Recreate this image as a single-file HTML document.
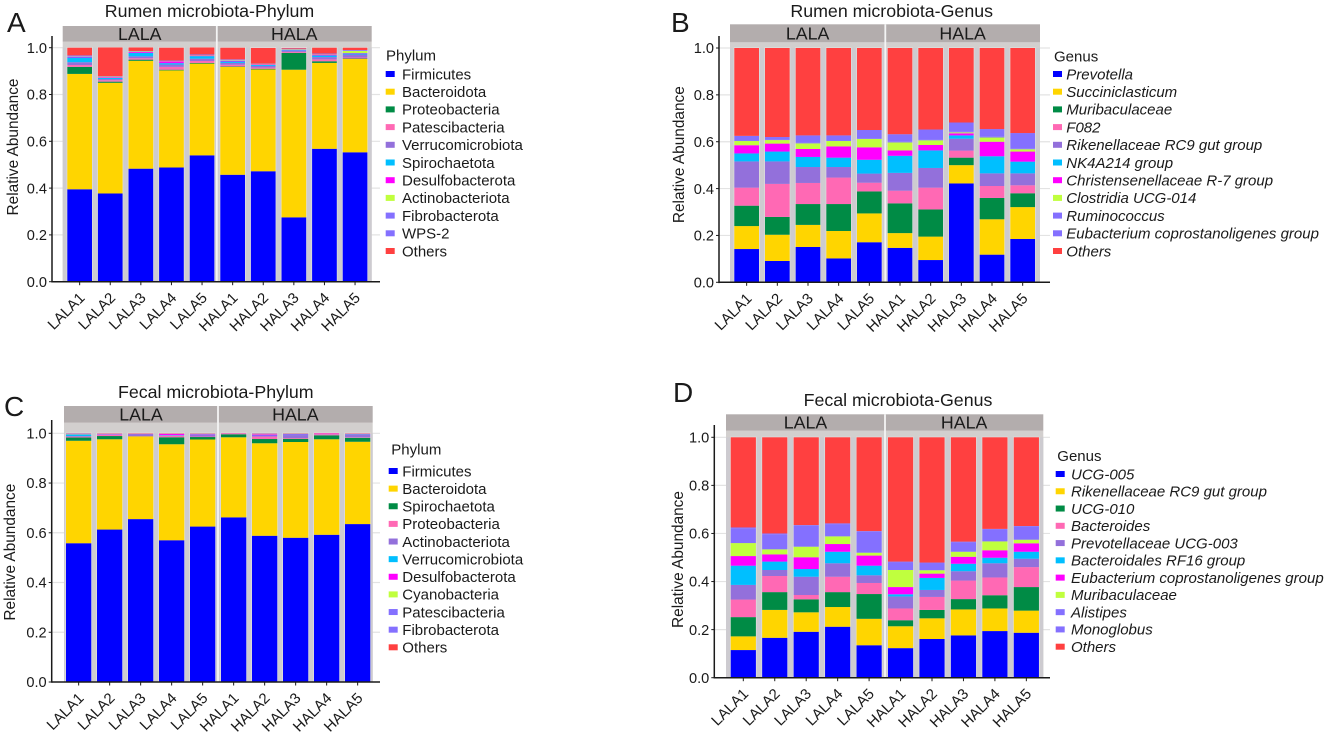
<!DOCTYPE html>
<html lang="en">
<head>
<meta charset="utf-8">
<title>Rumen and fecal microbiota relative abundance</title>
<style>
html,body{margin:0;padding:0;background:#fff;}
#figure{display:block;width:1325px;height:734px;font-family:"Liberation Sans",sans-serif;fill:#1a1a1a;}
</style>
</head>
<body>
<svg id="figure" xmlns="http://www.w3.org/2000/svg" width="1325" height="734" viewBox="0 0 1325 734"></svg>
<script>
// Shared data
const sampleLabels = ["LALA1","LALA2","LALA3","LALA4","LALA5","HALA1","HALA2","HALA3","HALA4","HALA5"];
const groupLabels = ["LALA","HALA"];
const yTickLabels = ["0.0","0.2","0.4","0.6","0.8","1.0"];
const seriesColors = ["#0000FF","#FFD500","#008B45","#FF69B4","#9370DB","#00BFFF","#FF00FF","#C0FF3E","#8470FF","#8470FF","#FF4040"];

// Panel A: rumen phylum
const rumenPhylumNames = ["Firmicutes","Bacteroidota","Proteobacteria","Patescibacteria","Verrucomicrobiota","Spirochaetota","Desulfobacterota","Actinobacteriota","Fibrobacterota","WPS-2","Others"];
const rumenPhylumFirmicutes = [.395,.377,.483,.488,.54,.457,.472,.275,.568,.553];
const rumenPhylumBacteroidota = [.493,.473,.461,.415,.392,.461,.435,.631,.367,.399];
const rumenPhylumProteobacteria = [.03,.005,.005,.003,.003,.002,.003,.072,.007,.002];
const rumenPhylumPatescibacteria = [.008,.006,.006,.012,.008,.007,.005,.004,.008,.004];
const rumenPhylumVerrucomicrobiota = [.012,.005,.008,.01,.01,.008,.007,.004,.01,.013];
const rumenPhylumSpirochaetota = [.02,.005,.015,.006,.011,.006,.004,.003,.007,.004];
const rumenPhylumDesulfobacterota = [.003,.003,.004,.008,.003,.003,.003,.002,.004,.002];
const rumenPhylumActinobacteriota = [.001,.002,.002,.001,.002,.002,.002,.002,.002,.009];
const rumenPhylumFibrobacterota = [.002,.002,.002,.002,.002,.002,.001,.003,.002,.003];
const rumenPhylumWps2 = [.003,0,0,0,0,.002,0,0,0,.001];
const rumenPhylumOthers = [.033,.123,.015,.055,.03,.05,.067,.003,.025,.01];

// Panel B: rumen genus
const rumenGenusNames = ["Prevotella","Succiniclasticum","Muribaculaceae","F082","Rikenellaceae RC9 gut group","NK4A214 group","Christensenellaceae R-7 group","Clostridia UCG-014","Ruminococcus","Eubacterium coprostanoligenes group","Others"];
const rumenGenusPrevotella = [.142,.091,.151,.102,.171,.147,.095,.422,.118,.185];
const rumenGenusSucciniclasticum = [.098,.112,.094,.117,.123,.063,.1,.078,.151,.136];
const rumenGenusMuribaculaceae = [.087,.076,.089,.115,.094,.127,.116,.032,.091,.059];
const rumenGenusF082 = [.077,.141,.09,.113,.037,.054,.093,.03,.051,.034];
const rumenGenusRikenellaceae = [.112,.096,.068,.045,.039,.076,.084,.051,.054,.051];
const rumenGenusNK4A214 = [.034,.042,.043,.04,.059,.073,.075,.014,.073,.05];
const rumenGenusChristensenellaceae = [.035,.034,.034,.048,.053,.023,.023,.009,.062,.043];
const rumenGenusClostridia = [.018,.015,.024,.023,.036,.034,.02,.004,.018,.01];
const rumenGenusRuminococcus = [.002,.002,.002,.002,.002,.003,.003,.003,.003,.002];
const rumenGenusEubacterium = [.02,.011,.032,.022,.036,.032,.043,.039,.033,.067];
const rumenGenusOthers = [.375,.38,.373,.373,.35,.368,.348,.318,.346,.363];

// Panel C: fecal phylum
const fecalPhylumNames = ["Firmicutes","Bacteroidota","Spirochaetota","Proteobacteria","Actinobacteriota","Verrucomicrobiota","Desulfobacterota","Cyanobacteria","Patescibacteria","Fibrobacterota","Others"];
const fecalPhylumFirmicutes = [.558,.613,.655,.57,.625,.662,.588,.58,.592,.635];
const fecalPhylumBacteroidota = [.412,.363,.332,.386,.35,.322,.372,.385,.384,.331];
const fecalPhylumSpirochaetota = [.013,.013,.001,.028,.01,.012,.017,.013,.016,.016];
const fecalPhylumProteobacteria = [.003,.005,.001,.006,.002,.001,.01,.003,.004,.002];
const fecalPhylumActinobacteriota = [.003,.001,.008,.002,.007,.001,.002,.012,.001,.012];
const fecalPhylumVerrucomicrobiota = [.006,.001,0,.001,.001,0,.002,.002,0,.001];
const fecalPhylumDesulfobacterota = [.001,.002,.001,.005,.002,.001,.005,.002,.002,.001];
const fecalPhylumCyanobacteria = [.001,.0005,.0005,.0005,.001,0,.001,.001,0,.0005];
const fecalPhylumPatescibacteria = [.001,.0005,.0005,.0005,.001,0,.001,.001,0,.0005];
const fecalPhylumFibrobacterota = [.001,0,0,0,0,0,.001,0,0,0];
const fecalPhylumOthers = [.001,.001,.001,.001,.001,.001,.001,.001,.001,.001];

// Panel D: fecal genus
const fecalGenusNames = ["UCG-005","Rikenellaceae RC9 gut group","UCG-010","Bacteroides","Prevotellaceae UCG-003","Bacteroidales RF16 group","Eubacterium coprostanoligenes group","Muribaculaceae","Alistipes","Monoglobus","Others"];
const fecalGenusUCG005 = [.115,.166,.191,.212,.135,.123,.161,.176,.194,.187];
const fecalGenusRikenellaceae = [.057,.116,.081,.082,.11,.091,.086,.108,.094,.092];
const fecalGenusUCG010 = [.08,.074,.054,.062,.103,.025,.035,.043,.055,.098];
const fecalGenusBacteroides = [.073,.067,.018,.064,.046,.049,.054,.077,.074,.083];
const fecalGenusPrevotellaceae = [.061,.025,.076,.056,.032,.05,.029,.039,.059,.035];
const fecalGenusRF16 = [.08,.035,.032,.048,.04,.009,.05,.031,.023,.029];
const fecalGenusEubacterium = [.04,.03,.049,.032,.042,.03,.018,.029,.031,.035];
const fecalGenusMuribaculaceae = [.054,.021,.044,.032,.012,.071,.014,.021,.037,.015];
const fecalGenusAlistipes = [.062,.063,.087,.051,.087,.033,.03,.04,.049,.054];
const fecalGenusMonoglobus = [.003,.003,.003,.003,.003,.002,.002,.002,.003,.003];
const fecalGenusOthers = [.375,.4,.365,.358,.39,.517,.521,.434,.381,.369];

const SVG_NS = "http://www.w3.org/2000/svg";
const root = document.getElementById("figure");

function shape(parent, tag, props, text) {
  const el = document.createElementNS(SVG_NS, tag);
  for (const k in props) el.setAttribute(k, props[k]);
  if (text !== undefined) el.textContent = text;
  parent.appendChild(el);
  return el;
}

function drawPanel(p) {
  const g = shape(root, "g", {});
  
  

  // Axis functions
  const yScale = v => p.y0 + (p.y1 - p.y0) * v;
  const xScale = i => p.barLeft + p.step * i;

  const letter = shape(g, "text", {x: p.letterX, y: p.letterY, "font-size": 28}, p.letter);
  
  

  const title = shape(g, "text", {x: p.titleX, y: p.titleY, "font-size": 17.8, "text-anchor": "middle"}, p.title);
  
  

  // Gridlines extend past the panel background
  yTickLabels.forEach((lab, i) => {
    if (i === 0) return;
    const gy = yScale(i / (yTickLabels.length - 1));
    const grid = shape(g, "line", {x1: p.axisX, x2: p.axisEnd, y1: gy, y2: gy, stroke: "#e3e3e3", "stroke-width": 1.2});
    
    
  });

  // Panel background
  const bgTop = shape(g, "rect", {x: p.bgL, y: p.stripB, width: p.bgR - p.bgL, height: p.y0 - p.stripB, fill: "#d2cfce"});
  
  
  const bg = shape(g, "rect", {x: p.bgL, y: p.y1, width: p.bgR - p.bgL, height: p.y0 - p.y1, fill: "#cdcbd0"});
  
  

  // Facet strips
  const strip = shape(g, "rect", {x: p.bgL, y: p.stripT, width: p.bgR - p.bgL, height: p.stripB - p.stripT, fill: "#b3adad"});
  
  
  const divider = shape(g, "rect", {x: p.divX - 0.9, y: p.stripT, width: 1.8, height: p.y0 - p.stripT, fill: "#f4f4f4"});
  
  
  groupLabels.forEach((lab, i) => {
    const cx = i === 0 ? (p.bgL + p.divX) / 2 : (p.divX + p.bgR) / 2;
    const t = shape(g, "text", {x: cx, y: (p.stripT + p.stripB) / 2 + 6.2, "font-size": 17.8, "text-anchor": "middle"}, lab);
    
    
  });

  // Stacked bars
  sampleLabels.forEach((sample, i) => {
    const halo = shape(g, "rect", {x: xScale(i) - 0.6, y: p.y1 - 0.6, width: p.barW + 1.2, height: p.y0 - p.y1 + 0.6, fill: "#e2e2e0"});
    
    
    let acc = 0;
    p.series.forEach((vals, s) => {
      const v = vals[i];
      const top = yScale(acc + v), bottom = yScale(acc);
      acc += v;
      const seg = shape(g, "rect", {x: xScale(i), y: top, width: p.barW, height: Math.max(0, bottom - top), fill: seriesColors[s]});
      
      
    });
  });

  // Axes
  const yAxis = shape(g, "line", {x1: p.axisX, x2: p.axisX, y1: p.axisTop, y2: p.y0 + 0.8, stroke: "#1a1a1a", "stroke-width": 1.5});
  
  
  const xAxis = shape(g, "line", {x1: p.axisX, x2: p.axisEnd, y1: p.y0, y2: p.y0, stroke: "#1a1a1a", "stroke-width": 1.5});
  
  

  yTickLabels.forEach((lab, i) => {
    const ty = yScale(i / (yTickLabels.length - 1));
    const tick = shape(g, "line", {x1: p.axisX - 3, x2: p.axisX, y1: ty, y2: ty, stroke: "#1a1a1a", "stroke-width": 1});
    
    
    const t = shape(g, "text", {x: p.axisX - 5, y: ty + 5.2, "font-size": 14.6, "text-anchor": "end"}, lab);
    
    
  });

  sampleLabels.forEach((sample, i) => {
    const tx = xScale(i) + p.barW / 2;
    const tick = shape(g, "line", {x1: tx, x2: tx, y1: p.y0, y2: p.y0 + 3.5, stroke: "#1a1a1a", "stroke-width": 1});
    
    
    const ax = tx + 6, ay = p.y0 + 17;
    const t = shape(g, "text", {x: ax, y: ay, "font-size": 15, "text-anchor": "end", transform: "rotate(-45 " + ax + " " + ay + ")"}, sample);
    
    
  });

  const yTitleY = (p.y0 + p.y1) / 2 + p.yTitleShift;
  const yTitle = shape(g, "text", {x: p.yTitleX, y: yTitleY, "font-size": 15.4, "text-anchor": "middle", transform: "rotate(-90 " + p.yTitleX + " " + yTitleY + ")"}, "Relative Abundance");
  
  

  // Legend
  const legendTitle = shape(g, "text", {x: p.legTitleX, y: p.legTitleY + 5.3, "font-size": 15}, p.legendTitle);
  
  
  p.names.forEach((name, s) => {
    const ly = p.legY0 + (p.legY1 - p.legY0) * s / (p.names.length - 1);
    const sw = shape(g, "rect", {x: p.swatchX, y: ly - 3, width: 9, height: 6, fill: seriesColors[s]});
    
    
    const props = {x: p.legTextX, y: ly + 5.3, "font-size": 15};
    if (p.italic) props["font-style"] = "italic";
    const t = shape(g, "text", props, name);
    
    
  });
}

drawPanel({
  key: "rumen-phylum", letter: "A", letterX: 7, letterY: 32,
  title: "Rumen microbiota-Phylum", titleX: 209.5, titleY: 17,
  axisX: 52, axisTop: 36, axisEnd: 380, y0: 281.7, y1: 47.7,
  bgL: 62.7, bgR: 371.7, stripT: 26, stripB: 41.7, divX: 216.8,
  barLeft: 67.3, barW: 24.7, step: 30.6, yTitleX: 18, yTitleShift: -17.7,
  legendTitle: "Phylum", names: rumenPhylumNames, italic: false,
  legTitleX: 386, legTitleY: 55, legY0: 74, legY1: 251, swatchX: 385.7, legTextX: 402,
  series: [rumenPhylumFirmicutes, rumenPhylumBacteroidota, rumenPhylumProteobacteria, rumenPhylumPatescibacteria, rumenPhylumVerrucomicrobiota, rumenPhylumSpirochaetota, rumenPhylumDesulfobacterota, rumenPhylumActinobacteriota, rumenPhylumFibrobacterota, rumenPhylumWps2, rumenPhylumOthers]
});

drawPanel({
  key: "rumen-genus", letter: "B", letterX: 671, letterY: 32,
  title: "Rumen microbiota-Genus", titleX: 891.7, titleY: 17,
  axisX: 719, axisTop: 36, axisEnd: 1050, y0: 282.3, y1: 48,
  bgL: 730, bgR: 1040, stripT: 24.3, stripB: 42.3, divX: 885.3,
  barLeft: 734.3, barW: 24.7, step: 30.67, yTitleX: 684, yTitleShift: -10.5,
  legendTitle: "Genus", names: rumenGenusNames, italic: true,
  legTitleX: 1054, legTitleY: 56, legY0: 74, legY1: 251, swatchX: 1053, legTextX: 1066.3,
  series: [rumenGenusPrevotella, rumenGenusSucciniclasticum, rumenGenusMuribaculaceae, rumenGenusF082, rumenGenusRikenellaceae, rumenGenusNK4A214, rumenGenusChristensenellaceae, rumenGenusClostridia, rumenGenusRuminococcus, rumenGenusEubacterium, rumenGenusOthers]
});

drawPanel({
  key: "fecal-phylum", letter: "C", letterX: 4, letterY: 416,
  title: "Fecal microbiota-Phylum", titleX: 215.8, titleY: 398,
  axisX: 51.7, axisTop: 420, axisEnd: 380, y0: 682, y1: 433.3,
  bgL: 64, bgR: 372.7, stripT: 406, stripB: 422.7, divX: 218,
  barLeft: 66, barW: 25.3, step: 31, yTitleX: 15, yTitleShift: -5.5,
  legendTitle: "Phylum", names: fecalPhylumNames, italic: false,
  legTitleX: 391.3, legTitleY: 449.3, legY0: 471, legY1: 647.3, swatchX: 388.7, legTextX: 402.3,
  series: [fecalPhylumFirmicutes, fecalPhylumBacteroidota, fecalPhylumSpirochaetota, fecalPhylumProteobacteria, fecalPhylumActinobacteriota, fecalPhylumVerrucomicrobiota, fecalPhylumDesulfobacterota, fecalPhylumCyanobacteria, fecalPhylumPatescibacteria, fecalPhylumFibrobacterota, fecalPhylumOthers]
});

drawPanel({
  key: "fecal-genus", letter: "D", letterX: 673, letterY: 402,
  title: "Fecal microbiota-Genus", titleX: 898, titleY: 406,
  axisX: 714.3, axisTop: 425, axisEnd: 1050, y0: 677.7, y1: 437.3,
  bgL: 726, bgR: 1043.3, stripT: 414.3, stripB: 430.7, divX: 885,
  barLeft: 730.7, barW: 25.2, step: 31.45, yTitleX: 683, yTitleShift: 2,
  legendTitle: "Genus", names: fecalGenusNames, italic: true,
  legTitleX: 1057.3, legTitleY: 455.7, legY0: 474, legY1: 646.7, swatchX: 1055.7, legTextX: 1071,
  series: [fecalGenusUCG005, fecalGenusRikenellaceae, fecalGenusUCG010, fecalGenusBacteroides, fecalGenusPrevotellaceae, fecalGenusRF16, fecalGenusEubacterium, fecalGenusMuribaculaceae, fecalGenusAlistipes, fecalGenusMonoglobus, fecalGenusOthers]
});
</script>
</body>
</html>
